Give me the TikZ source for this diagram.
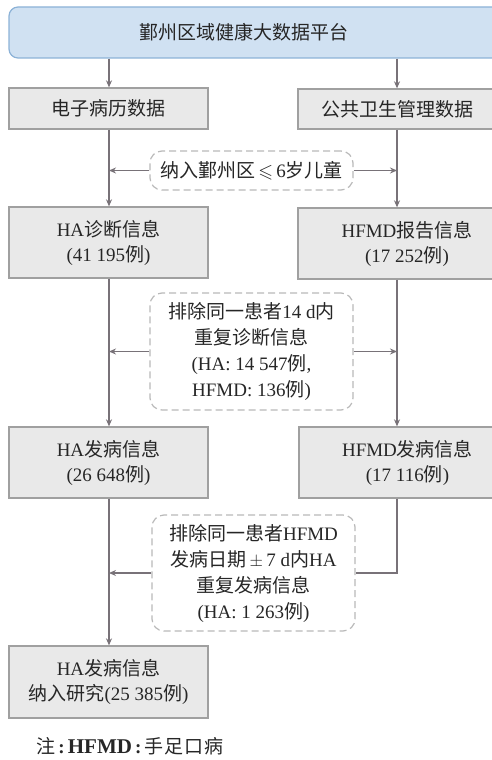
\documentclass[tikz,border=0pt]{standalone}
\usepackage{amssymb}
\usepackage{fontspec}
\setmainfont{Liberation Serif}
\newfontfamily\cjk{Noto Sans CJK SC}
\newcommand{\zh}[1]{{\cjk #1}}
\usetikzlibrary{arrows.meta}
\definecolor{boxfill}{RGB}{233,233,233}
\definecolor{boxline}{RGB}{160,160,160}
\definecolor{topfill}{RGB}{208,225,242}
\definecolor{topline}{RGB}{140,178,215}
\definecolor{dashline}{RGB}{185,185,185}
\definecolor{conn}{RGB}{120,114,120}
\tikzset{
  greybox/.style={draw=boxline, fill=boxfill, line width=1.3pt, inner sep=0pt, align=center,
    font=\fontsize{19}{25}\selectfont, text=black!85},
  topbox/.style={draw=topline, fill=topfill, line width=1.2pt, rounded corners=9pt, inner sep=0pt},
  dashbox/.style={draw=dashline, line width=1.2pt, dash pattern=on 7pt off 4pt, rounded corners=12pt,
    fill=white, inner sep=0pt, align=center, font=\fontsize{19}{26}\selectfont, text=black!85},
  txt/.style={inner sep=0pt, align=center, font=\fontsize{19}{25}\selectfont, text=black!85},
  conn/.style={draw=conn, line width=1.4pt},
  arr/.style={conn, -{Stealth[length=7pt,width=6pt]}}
}
\begin{document}
\begin{tikzpicture}[x=1pt,y=-1pt]
\useasboundingbox (0,0) rectangle (492,760);
\clip (0,0) rectangle (492,760);
\coordinate (lx) at (109,0);
\coordinate (rx) at (397,0);
% top
\node[topbox, minimum width=511pt, minimum height=51pt] (top) at (264.5,32.5) {};
\node[txt] (toptxt) at (244,32.5) {\zh{鄞州区域健康大数据平台}};
% left column
\node[greybox, minimum width=199pt, minimum height=41pt] (l1) at (108.5,108.5) {\zh{电子病历数据}};
\node[greybox, minimum width=199pt, minimum height=71pt] (l2) at (108.5,242.5) {HA\zh{诊断信息}\\(41 195\zh{例})};
\node[greybox, minimum width=199pt, minimum height=71pt] (l3) at (108.5,462.5) {HA\zh{发病信息}\\(26 648\zh{例})};
\node[greybox, minimum width=199pt, minimum height=72pt] (l4) at (108.5,682) {HA\zh{发病信息}\\\zh{纳入研究}(25 385\zh{例})};
% right column
\node[greybox, minimum width=198pt, minimum height=40pt] (r1) at (397,109) {\zh{公共卫生管理数据}};
\node[greybox, minimum width=218pt, minimum height=71pt] (r2) at (407,243.5) {HFMD\zh{报告信息}\\(17 252\zh{例})};
\node[greybox, minimum width=217pt, minimum height=71pt] (r3) at (407.5,462.5) {HFMD\zh{发病信息}\\(17 116\zh{例})};
% dashed boxes
\node[dashbox, minimum width=203pt, minimum height=39pt] (d1) at (251.5,170.5) {\zh{纳入鄞州区}\,$\leqslant$\,6\zh{岁儿童}};
\node[dashbox, minimum width=203pt, minimum height=117pt] (d2) at (251.5,351.5)
  {\zh{排除同一患者}14 d\zh{内}\\\zh{重复诊断信息}\\(HA: 14 547\zh{例},\\HFMD: 136\zh{例})};
\node[dashbox, minimum width=203pt, minimum height=116pt] (d3) at (253.5,573)
  {\zh{排除同一患者}HFMD\\\zh{发病日期}\,$\pm$\,7 d\zh{内}HA\\\zh{重复发病信息}\\(HA: 1 263\zh{例})};
% note
\node[txt, anchor=west, font=\fontsize{19}{22}\selectfont] (note) at (36,746)
  {\zh{注}\,\textbf{:}\,{\fontsize{21}{22}\selectfont\textbf{HFMD}}\,\textbf{:}\,\zh{手\hspace{1pt}足\hspace{1pt}口\hspace{1pt}病}};
% connectors
\draw[arr] (top.south -| lx) -- (l1.north -| lx);
\draw[arr] (top.south -| rx) -- (r1.north -| rx);
\draw[arr] (l1.south -| lx) -- (l2.north -| lx);
\draw[arr] (r1.south -| rx) -- (r2.north -| rx);
\draw[arr] (l2.south -| lx) -- (l3.north -| lx);
\draw[arr] (r2.south -| rx) -- (r3.north -| rx);
\draw[arr] (l3.south -| lx) -- (l4.north -| lx);
\draw[arr] (d1.west) -- (d1.west -| lx);
\draw[arr] (d1.east) -- (d1.east -| rx);
\draw[arr] (d2.west) -- (d2.west -| lx);
\draw[arr] (d2.east) -- (d2.east -| rx);
\draw[arr] (d3.west) -- (d3.west -| lx);
\draw[conn] (r3.south -| rx) |- (d3.east);
\end{tikzpicture}
\end{document}
